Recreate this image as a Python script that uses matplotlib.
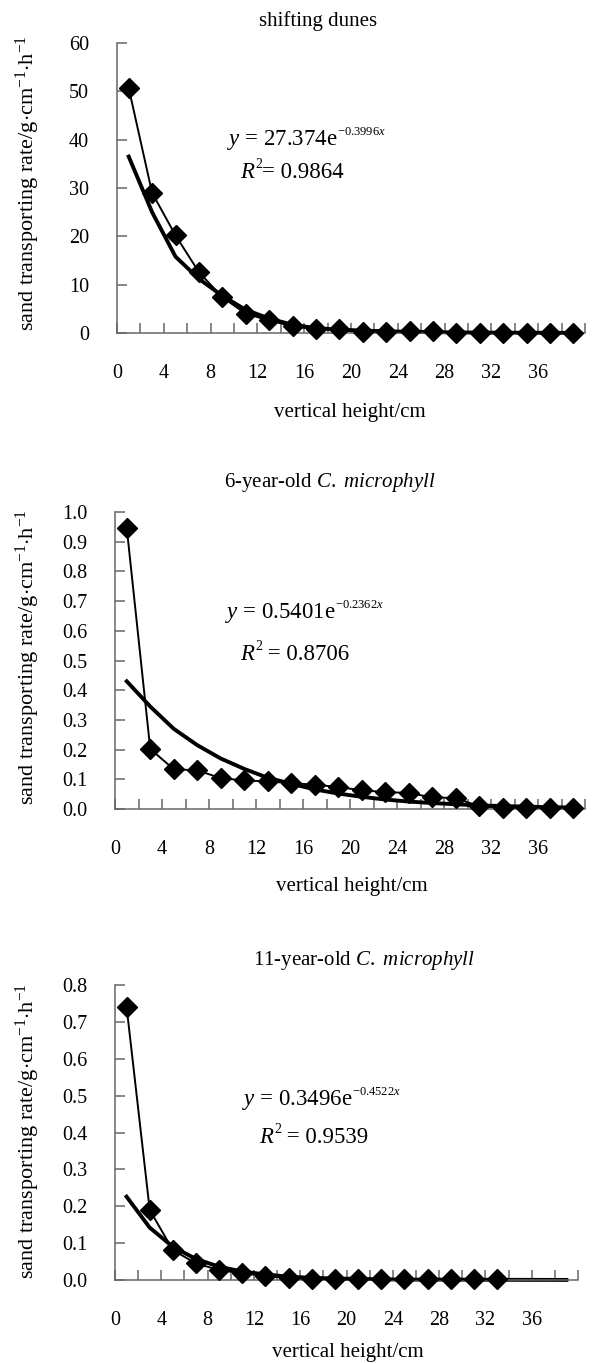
import matplotlib
matplotlib.use("Agg")
import matplotlib.pyplot as plt

plt.rcParams['font.family'] = ['Liberation Serif', 'DejaVu Serif']
plt.rcParams['mathtext.fontset'] = 'custom'
plt.rcParams['mathtext.rm'] = 'Liberation Serif'
plt.rcParams['mathtext.it'] = 'Liberation Serif:italic'

# heights (cm) of the sampling points
x_pts = [1, 3, 5, 7, 9, 11, 13, 15, 17, 19, 21, 23, 25, 27, 29, 31, 33, 35, 37, 39]

# shifting dunes
dune_obs = [50.7, 29.0, 20.2, 12.6, 7.4, 4.0, 2.6, 1.4, 0.8, 0.8,
            0.3, 0.3, 0.35, 0.35, 0.05, 0.05, 0.05, 0.05, 0.05, 0.05]
dune_fit = [36.5, 25.0, 15.8, 11.2, 7.7, 4.8, 3.0, 1.7, 1.0, 0.7,
            0.5, 0.35, 0.25, 0.18, 0.12, 0.09, 0.07, 0.05, 0.04, 0.03]

# 6-year-old C. microphyll
c6_obs = [0.946, 0.202, 0.134, 0.130, 0.104, 0.096, 0.093, 0.087, 0.082, 0.074,
          0.063, 0.057, 0.054, 0.039, 0.037, 0.009, 0.005, 0.005, 0.005, 0.005]
c6_fit = [0.43, 0.345, 0.27, 0.215, 0.17, 0.135, 0.105, 0.085, 0.066, 0.052,
          0.041, 0.032, 0.025, 0.02, 0.016, 0.012, 0.01, 0.008, 0.006, 0.005]

# 11-year-old C. microphyll (measured only up to 33 cm)
c11_x = x_pts[:17]
c11_obs = [0.741, 0.190, 0.081, 0.045, 0.027, 0.018, 0.011, 0.005, 0.003, 0.002,
           0.002, 0.002, 0.002, 0.002, 0.002, 0.002, 0.002]
c11_fit = [0.226, 0.142, 0.090, 0.057, 0.036, 0.023, 0.015, 0.009, 0.006, 0.004,
           0.003, 0.002, 0.001, 0.001, 0.001, 0.0008, 0.0006, 0.0004, 0.0003, 0.0002]

x_ticks = list(range(0, 41, 2))
x_labels = [str(t) if (t % 4 == 0 and t <= 36) else '' for t in x_ticks]

W, H = 592, 1363
fig = plt.figure(figsize=(W / 100, H / 100), dpi=100)
renderer = fig.canvas.get_renderer()


def run_text(x, y_center, parts, size):
    # writes pieces one after another; pieces marked True are small superscripts
    base = H - y_center - 0.33 * size * 100 / 72
    cur = x
    for txt, sz, sup in parts:
        yy = base + (0.42 * size * 100 / 72 if sup else 0)
        t = fig.text(cur / W, yy / H, txt, ha='left', va='baseline', fontsize=sz)
        bb = t.get_window_extent(renderer)
        cur = bb.x1 + (0 if sup else -0.5)


panels = [
    dict(box=(117, 585, 43, 333), xo=x_pts, obs=dune_obs, fit=dune_fit,
         ylim=60, ystep=10, fmt='{:.0f}', title='shifting dunes', tx=318, ty=21,
         coef='27.374', expo=r'$-0.3996x$', ex=227, ey=137,
         r2='= 0.9864', rx=240, ry=170, yl=183, xl=(350, 413)),
    dict(box=(115, 585, 512, 809), xo=x_pts, obs=c6_obs, fit=c6_fit,
         ylim=1.0, ystep=0.1, fmt='{:.1f}', title=r'6-year-old $\mathit{C.}$ $\mathit{microphyll}$',
         tx=330, ty=483,
         coef='0.5401', expo=r'$-0.2362x$', ex=225, ey=610,
         r2=' = 0.8706', rx=240, ry=652, yl=657, xl=(352, 887)),
    dict(box=(115, 578, 985, 1280), xo=c11_x, obs=c11_obs, fit=c11_fit,
         ylim=0.8, ystep=0.1, fmt='{:.1f}', title=r'11-year-old $\mathit{C.}$ $\mathit{microphyll}$',
         tx=364, ty=960,
         coef='0.3496', expo=r'$-0.4522x$', ex=242, ey=1097,
         r2=' = 0.9539', rx=259, ry=1135, yl=1131, xl=(348, 1353)),
]

fs_tick = 14.5
fs_text = 15
fs_eq = 16.5
for p in panels:
    l, r, t, b = p['box']
    ax = fig.add_axes([l / W, 1 - b / H, (r - l) / W, (b - t) / H])
    ax.plot(p['xo'], p['obs'], color='black', lw=1.4, marker='D', ms=10.5,
            zorder=3, clip_on=False)
    ax.plot(x_pts, p['fit'], color='black', lw=2.8, zorder=2, clip_on=False)
    ax.set_xlim(0, 40)
    ax.set_ylim(0, p['ylim'])
    n = int(round(p['ylim'] / p['ystep']))
    yt = [i * p['ystep'] for i in range(n + 1)]
    ax.set_yticks(yt)
    ax.set_yticklabels([p['fmt'].format(v) for v in yt])
    ax.set_xticks(x_ticks)
    ax.set_xticklabels(x_labels)
    for s in ('top', 'right'):
        ax.spines[s].set_visible(False)
    for s in ('left', 'bottom'):
        ax.spines[s].set_color('#666666')
        ax.spines[s].set_linewidth(1.1)
    ax.tick_params(axis='x', direction='in', length=7, width=1.1, color='#666666',
                   labelsize=fs_tick, pad=22)
    ax.tick_params(axis='y', direction='in', length=7, width=1.1, color='#666666',
                   labelsize=fs_tick, pad=20)

    fig.text(p['tx'] / W, 1 - p['ty'] / H, p['title'], ha='center', va='center',
             fontsize=fs_text)
    fig.text(p['xl'][0] / W, 1 - p['xl'][1] / H, 'vertical height/cm',
             ha='center', va='center', fontsize=fs_text)
    fig.text(28 / W, 1 - p['yl'] / H,
             r'sand transporting rate/g$\cdot$cm$^{-1}$$\cdot$h$^{-1}$',
             rotation=90, ha='center', va='center', fontsize=16)

    # fitted equation and R2, with small superscripts
    run_text(p['ex'], p['ey'],
             [(r'$y$ = ' + p['coef'] + 'e', fs_eq, False), (p['expo'], 9, True)],
             fs_eq)
    run_text(p['rx'], p['ry'],
             [(r'$R$', fs_eq, False), ('2', 10, True), (p['r2'], fs_eq, False)],
             fs_eq)

fig.savefig('out.png', dpi=100)
